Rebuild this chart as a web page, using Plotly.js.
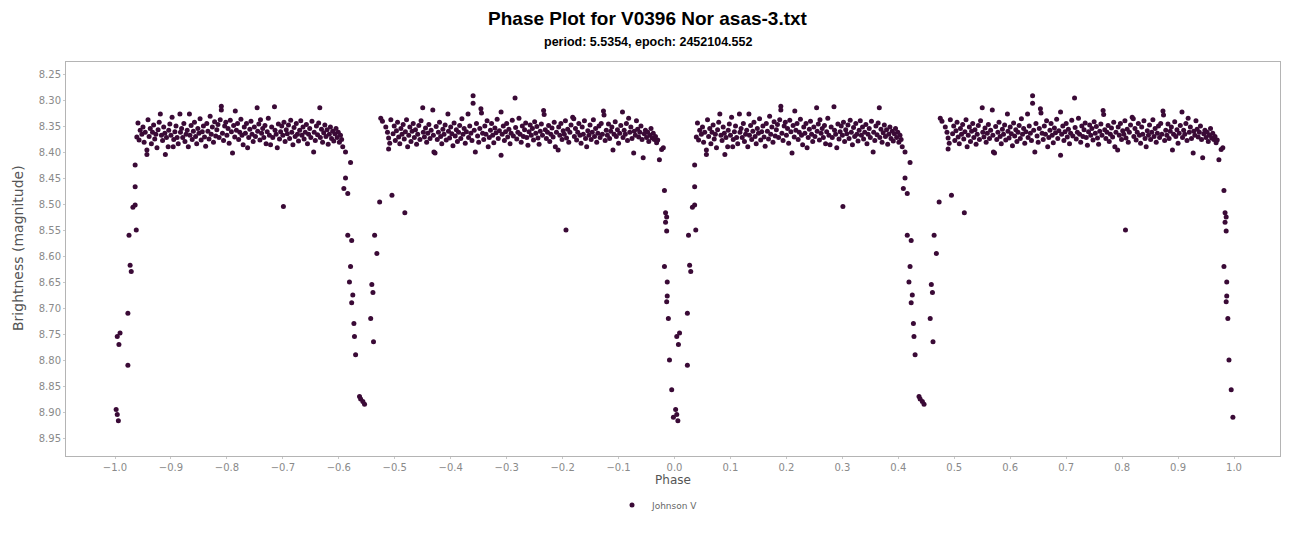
<!DOCTYPE html>
<html>
<head>
<meta charset="utf-8">
<script src="https://cdn.plot.ly/plotly-3.0.1.min.js"></script>
<style>html,body{margin:0;padding:0;background:#fff;}#chart{width:1295px;height:538px;}</style>
</head>
<body>
<div id="chart"></div>
<script>
// One cycle of folded photometry (phase 0..1); the plot shows it twice (phase-1 and phase)
const eclipsePhase = [
  0.002,0.004,0.006,0.004,0.009,0.007,0.023,0.023,0.027,0.029,0.025,0.038,0.032,0.036,0.036,0.036,
  0.409,0.416,0.412,0.421,0.416,0.423,0.421,0.419,0.425,0.423,0.427,0.428,0.430,0.437,0.439,0.443,0.446,
  0.457,0.459,0.461,0.462,0.464,0.468,0.473,0.495,0.518,
  0.973,0.977,0.982,0.984,0.986,0.984,0.986,0.982,0.987,0.987,0.986,0.989,0.991,0.995,0.998
];
const eclipseMag = [
  8.895,8.905,8.917,8.755,8.748,8.770,8.810,8.710,8.618,8.630,8.560,8.550,8.506,8.502,8.467,8.425,
  8.470,8.480,8.450,8.420,8.560,8.570,8.620,8.650,8.675,8.690,8.730,8.755,8.790,8.870,8.875,8.880,8.885,
  8.720,8.655,8.670,8.765,8.560,8.595,8.496,8.483,8.517,
  8.415,8.395,8.474,8.517,8.525,8.535,8.552,8.620,8.650,8.677,8.688,8.720,8.800,8.857,8.910
];
const plateau1Phase = [
  0.041,0.043,0.045,0.039,0.048,0.050,0.052,0.054,0.057,0.057,0.059,0.061,0.063,0.065,0.067,0.069,0.071,0.073,0.075,0.077,
  0.079,0.081,0.083,0.085,0.087,0.089,0.090,0.092,0.095,0.096,0.098,0.100,0.102,0.104,0.105,0.107,0.109,0.111,0.113,0.116,
  0.117,0.119,0.121,0.123,0.125,0.127,0.129,0.131,0.133,0.134,0.136,0.138,0.140,0.142,0.144,0.146,0.148,0.150,0.152,0.154,
  0.156,0.158,0.160,0.162,0.164,0.166,0.168,0.170,0.172,0.174,0.176,0.178,0.180,0.182,0.184,0.186,0.188,0.190,0.190,0.192,
  0.194,0.196,0.198,0.200,0.202,0.204,0.206,0.208,0.210,0.212,0.214,0.215,0.217,0.219,0.221,0.223,0.225,0.227,0.229,0.231,
  0.233,0.235,0.237,0.239,0.241,0.243,0.245,0.247,0.249,0.251,0.254,0.255,0.257,0.259,0.260,0.262,0.264,0.266,0.268,0.270,
  0.272,0.274,0.276,0.278,0.280,0.282,0.285,0.286,0.288,0.290,0.292,0.294,0.296,0.298,0.301,0.300,0.302,0.304,0.306,0.308,
  0.310,0.312,0.314,0.316,0.318,0.320,0.322,0.324,0.326,0.328,0.330,0.332,0.334,0.336,0.338,0.340,0.342,0.344,0.346,0.348,
  0.350,0.352,0.355,0.356,0.358,0.360,0.362,0.364,0.366,0.367,0.369,0.371,0.373,0.375,0.377,0.379,0.381,0.383,0.385,0.387,
  0.389,0.391,0.393,0.395,0.397,0.399,0.401,0.403,0.405,0.407,0.412
];
const plateau1Mag = [
  8.344,8.377,8.358,8.371,8.366,8.352,8.381,8.362,8.396,8.405,8.338,8.370,8.355,8.384,8.362,8.348,8.375,8.366,8.392,8.357,
  8.343,8.327,8.368,8.378,8.352,8.364,8.405,8.372,8.390,8.358,8.346,8.368,8.333,8.390,8.376,8.361,8.350,8.372,8.384,8.327,
  8.362,8.355,8.372,8.345,8.380,8.366,8.358,8.390,8.327,8.368,8.349,8.376,8.360,8.343,8.370,8.384,8.355,8.364,8.336,8.377,
  8.361,8.350,8.371,8.389,8.345,8.360,8.375,8.331,8.366,8.352,8.381,8.342,8.369,8.357,8.347,8.372,8.338,8.312,8.319,8.364,
  8.378,8.350,8.343,8.368,8.355,8.383,8.339,8.361,8.402,8.349,8.371,8.321,8.358,8.345,8.376,8.362,8.337,8.368,8.386,8.352,
  8.364,8.345,8.392,8.372,8.356,8.341,8.366,8.380,8.352,8.370,8.315,8.360,8.346,8.377,8.338,8.364,8.355,8.372,8.349,8.384,
  8.361,8.335,8.368,8.386,8.352,8.372,8.313,8.358,8.366,8.392,8.346,8.375,8.361,8.350,8.505,8.368,8.343,8.380,8.357,8.365,
  8.348,8.374,8.339,8.362,8.386,8.353,8.370,8.345,8.366,8.379,8.358,8.340,8.368,8.352,8.375,8.362,8.347,8.384,8.366,8.355,
  8.372,8.341,8.400,8.362,8.378,8.350,8.367,8.344,8.315,8.372,8.356,8.381,8.363,8.348,8.370,8.357,8.385,8.366,8.352,8.374,
  8.360,8.379,8.365,8.355,8.372,8.362,8.381,8.368,8.376,8.390,8.400
];
const plateau2Phase = [
  0.475,0.478,0.493,0.484,0.487,0.489,0.491,0.489,0.497,0.499,0.501,0.503,0.505,0.507,0.509,0.511,0.513,0.515,0.517,0.519,
  0.521,0.523,0.525,0.527,0.529,0.531,0.533,0.535,0.537,0.539,0.541,0.543,0.545,0.547,0.550,0.551,0.553,0.555,0.557,0.559,
  0.561,0.563,0.565,0.568,0.569,0.570,0.572,0.574,0.576,0.578,0.580,0.582,0.584,0.586,0.588,0.590,0.592,0.595,0.596,0.598,
  0.600,0.602,0.604,0.606,0.608,0.610,0.612,0.614,0.616,0.618,0.620,0.622,0.624,0.626,0.628,0.631,0.632,0.634,0.636,0.638,
  0.640,0.640,0.642,0.644,0.646,0.648,0.650,0.652,0.654,0.655,0.657,0.659,0.661,0.663,0.665,0.667,0.669,0.671,0.673,0.675,
  0.677,0.679,0.681,0.683,0.685,0.687,0.690,0.690,0.692,0.694,0.696,0.698,0.700,0.702,0.704,0.706,0.708,0.710,0.712,0.715,
  0.716,0.718,0.720,0.722,0.724,0.726,0.728,0.730,0.732,0.734,0.736,0.738,0.740,0.742,0.744,0.746,0.748,0.750,0.752,0.754,
  0.756,0.758,0.760,0.762,0.764,0.766,0.767,0.769,0.771,0.773,0.775,0.777,0.779,0.781,0.783,0.785,0.787,0.789,0.792,0.793,
  0.795,0.797,0.799,0.801,0.803,0.806,0.805,0.807,0.809,0.811,0.813,0.815,0.818,0.820,0.821,0.823,0.825,0.827,0.829,0.831,
  0.833,0.835,0.837,0.839,0.841,0.843,0.845,0.847,0.849,0.851,0.853,0.855,0.857,0.859,0.861,0.863,0.865,0.867,0.869,0.871,
  0.873,0.874,0.876,0.878,0.880,0.882,0.884,0.886,0.888,0.890,0.892,0.894,0.896,0.898,0.900,0.902,0.904,0.907,0.908,0.910,
  0.912,0.914,0.916,0.918,0.920,0.922,0.924,0.927,0.928,0.930,0.932,0.934,0.936,0.938,0.940,0.942,0.944,0.946,0.948,0.950,
  0.952,0.954,0.956,0.958,0.960,0.962,0.964,0.966,0.968,0.970,0.980
];
const plateau2Mag = [
  8.335,8.341,8.338,8.352,8.362,8.373,8.383,8.394,8.365,8.350,8.378,8.359,8.343,8.371,8.384,8.355,8.366,8.347,8.375,8.361,
  8.338,8.390,8.368,8.352,8.380,8.360,8.345,8.372,8.357,8.385,8.366,8.349,8.376,8.340,8.315,8.362,8.371,8.354,8.381,8.364,
  8.347,8.374,8.358,8.319,8.368,8.400,8.402,8.351,8.376,8.362,8.343,8.370,8.384,8.356,8.366,8.348,8.377,8.327,8.360,8.373,
  8.352,8.365,8.388,8.344,8.369,8.357,8.380,8.362,8.349,8.374,8.336,8.366,8.355,8.383,8.361,8.327,8.372,8.350,8.364,8.378,
  8.292,8.306,8.358,8.400,8.345,8.369,8.381,8.355,8.317,8.325,8.364,8.376,8.350,8.366,8.340,8.390,8.372,8.358,8.345,8.368,
  8.382,8.354,8.363,8.337,8.374,8.359,8.323,8.406,8.366,8.350,8.378,8.361,8.345,8.371,8.356,8.384,8.364,8.339,8.369,8.296,
  8.353,8.375,8.362,8.335,8.366,8.381,8.350,8.370,8.357,8.344,8.372,8.387,8.361,8.348,8.368,8.355,8.377,8.342,8.364,8.351,
  8.373,8.385,8.360,8.346,8.368,8.320,8.328,8.357,8.374,8.362,8.349,8.380,8.366,8.354,8.371,8.343,8.390,8.362,8.396,8.352,
  8.368,8.345,8.376,8.359,8.366,8.550,8.340,8.373,8.356,8.381,8.362,8.348,8.333,8.336,8.370,8.355,8.377,8.362,8.345,8.368,
  8.383,8.352,8.366,8.340,8.374,8.390,8.359,8.368,8.348,8.376,8.362,8.338,8.370,8.355,8.381,8.364,8.350,8.372,8.345,8.366,
  8.321,8.329,8.378,8.358,8.368,8.346,8.374,8.360,8.352,8.396,8.366,8.342,8.370,8.357,8.383,8.364,8.349,8.323,8.372,8.358,
  8.366,8.345,8.378,8.335,8.362,8.352,8.374,8.402,8.360,8.368,8.340,8.356,8.371,8.362,8.350,8.376,8.411,8.365,8.358,8.372,
  8.362,8.380,8.368,8.355,8.373,8.364,8.376,8.370,8.382,8.377,8.392
];

const cyclePhase = eclipsePhase.concat(plateau1Phase, plateau2Phase);
const cycleMag = eclipseMag.concat(plateau1Mag, plateau2Mag);
const xs = cyclePhase.map(p => p - 1).concat(cyclePhase);
const ys = cycleMag.concat(cycleMag);

const seriesName = "Johnson V";
const titleText = "Phase Plot for V0396 Nor asas-3.txt";
const subtitleText = "period: 5.5354, epoch: 2452104.552";
const xTitle = "Phase";
const yTitle = "Brightness (magnitude)";

const trace = {
  x: xs, y: ys, type: "scatter", mode: "markers", name: seriesName,
  marker: {color: "#3a0a36", size: 5, line: {width: 0}},
  showlegend: true
};

const narrow = "Liberation Sans Narrow, Arial Narrow, Arial, sans-serif";
const sans = "DejaVu Sans, Verdana, sans-serif";

const layout = {
  width: 1295, height: 538,
  paper_bgcolor: "#ffffff", plot_bgcolor: "#ffffff",
  margin: {l: 66, r: 15, t: 62, b: 82},
  title: {
    text: "<b>" + titleText + "</b>",
    x: 0.5, xref: "container", xanchor: "center",
    y: 1 - 18/538, yref: "container", yanchor: "middle",
    font: {family: narrow, size: 19, color: "#000"}
  },
  annotations: [
    {
      text: "<b>" + subtitleText + "</b>", xref: "paper", yref: "paper",
      x: (647.5 - 66) / 1214, y: 1 + (62 - 42) / 394, xanchor: "center", yanchor: "middle",
      showarrow: false, font: {family: narrow, size: 12.5, color: "#000"}
    },
    {
      text: yTitle, xref: "paper", yref: "paper", textangle: -90,
      x: (18 - 66) / 1214, y: (456 - 248) / 394, xanchor: "center", yanchor: "middle",
      showarrow: false, font: {family: sans, size: 14, color: "#555"}
    }
  ],
  xaxis: {
    range: [-1.0876, 1.0822], dtick: 0.1, tick0: 0, tickformat: ".1f",
    showgrid: false, zeroline: false,
    showline: true, mirror: true, linecolor: "#b4b4b4", linewidth: 1,
    ticks: "outside", ticklen: 2, tickcolor: "#c8c8c8",
    tickfont: {family: sans, size: 10, color: "#8a8a8a"},
    title: {text: xTitle, font: {family: sans, size: 12, color: "#555"}, standoff: 3}
  },
  yaxis: {
    range: [8.9846, 8.2269], dtick: 0.05, tick0: 8.25, tickformat: ".2f",
    showgrid: false, zeroline: false,
    showline: true, mirror: true, linecolor: "#b4b4b4", linewidth: 1,
    ticks: "outside", ticklen: 2, tickcolor: "#c8c8c8",
    tickfont: {family: sans, size: 10, color: "#8a8a8a"}
  },
  legend: {
    orientation: "h", x: (612 - 66) / 1214, xanchor: "left", y: -(505 - 456) / 394, yanchor: "middle",
    font: {family: sans, size: 9, color: "#666"},
    itemsizing: "trace", bgcolor: "rgba(0,0,0,0)"
  }
};

Plotly.newPlot("chart", [trace], layout, {displayModeBar: false, staticPlot: true});
</script>
</body>
</html>
